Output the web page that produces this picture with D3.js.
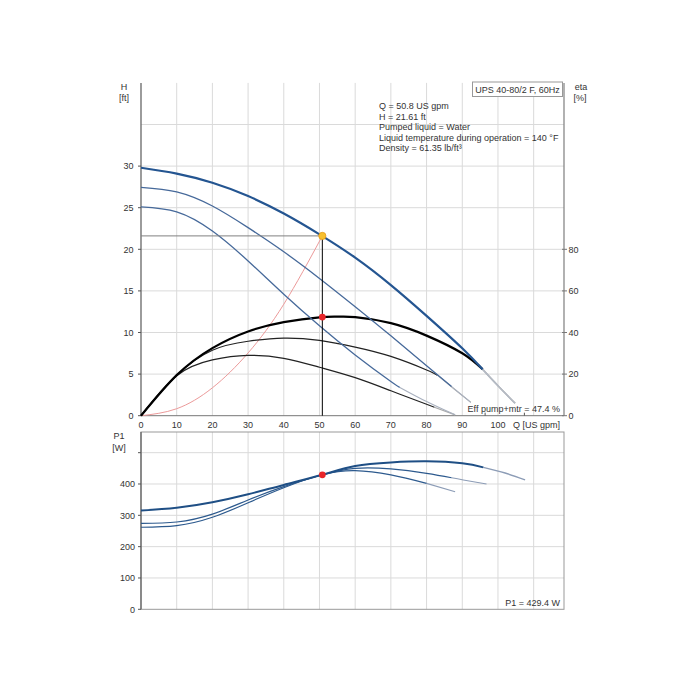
<!DOCTYPE html>
<html>
<head>
<meta charset="utf-8">
<script src="https://cdn.jsdelivr.net/npm/d3@7"></script>
<style>
  body { margin: 0; background: #fff; }
  text { font-family: "Liberation Sans", Arial, sans-serif; font-size: 9px; fill: #333; }
</style>
</head>
<body>
<div id="graph"></div>
<script>
// flow ticks / labels
const qTicks = [0, 10, 20, 30, 40, 50, 60, 70, 80, 90, 100];
const qGrid = [10, 20, 30, 40, 50, 60, 70, 80, 90, 100, 110];
const hTicks = [0, 5, 10, 15, 20, 25, 30];
const hGrid = [5, 10, 15, 20, 25, 30, 35];
const etaTicks = [0, 20, 40, 60, 80];
const p1Ticks = [0, 100, 200, 300, 400];
const p1Grid = [100, 200, 300, 400, 500];

// head curves (3 speeds), main part up to hMainEnd, grey tail after
const hQ1 = [0, 10, 20, 30, 40, 50, 60, 70, 80, 90, 95.7, 100, 104.8];
const hVal1 = [29.8, 29.1, 28.0, 26.4, 24.3, 21.8, 19.0, 15.7, 12.0, 8.1, 5.57, 3.6, 1.5];
const hQ2 = [0, 10, 20, 30, 40, 50, 60, 70, 80, 87, 92.4];
const hVal2 = [27.45, 26.9, 25.2, 22.6, 19.7, 16.5, 13.1, 9.6, 6.0, 3.5, 1.6];
const hQ3 = [0, 10, 20, 30, 40, 50, 60, 70, 72.5, 80, 88];
const hVal3 = [25.1, 24.5, 22.2, 18.6, 14.6, 10.8, 7.3, 4.1, 3.4, 1.7, 0.1];
const hMainEnd = [95.7, 87, 72.5];

// efficiency curves [%]
const eQ1 = [0, 10, 20, 30, 40, 50, 55, 60, 70, 80, 90, 95.7, 100, 104.8];
const eVal1 = [0, 19.5, 32.5, 40.5, 45, 47.3, 47.6, 47.4, 44.5, 38.5, 30, 22.3, 14.4, 6];
const eQ2 = [0, 10, 20, 30, 40, 50, 60, 70, 80, 83, 88, 92.4];
const eVal2 = [0, 19.4, 31.5, 35.8, 37.3, 36.2, 33, 28.5, 22, 19.5, 12.5, 6.4];
const eQ3 = [0, 10, 20, 30, 40, 50, 60, 70, 80, 82, 88];
const eVal3 = [0, 19.2, 26.8, 29, 27.6, 23.3, 18.3, 12, 5.5, 4.2, 0.4];
const eMainEnd = [95.7, 83, 82];

// power curves P1 [W]
const pQ1 = [0, 10, 20, 30, 40, 50.8, 60, 70, 80, 90, 95.9, 102, 107.6];
const pVal1 = [315, 324, 341.6, 367, 397, 429.4, 457.6, 469, 472.5, 466, 453, 435, 413];
const pQ2 = [0, 10, 20, 30, 40, 50.8, 60, 70, 80, 87, 90.3, 96.8];
const pVal2 = [274.6, 278.7, 304, 349, 391.5, 429.4, 450, 448, 434, 420, 413, 400];
const pQ3 = [0, 10, 20, 30, 40, 50.8, 60, 70, 80, 88];
const pVal3 = [262, 267, 293.7, 340, 388, 429.4, 442.6, 429, 402, 375.5];
const pMainEnd = [95.9, 87, 80];

// system curve
const sysQ = [0, 10, 20, 30, 40, 50.8];
const sysH = [0, 0.84, 3.35, 7.54, 13.4, 21.61];

// duty point
const dutyQ = 50.8, dutyH = 21.61, dutyEta = 47.4, dutyP1 = 429.4;
const infoLines = ["Q = 50.8 US gpm", "H = 21.61 ft", "Pumped liquid = Water",
  "Liquid temperature during operation = 140 °F", "Density = 61.35 lb/ft³"];

const svg = d3.select('#graph').append('svg').attr('width', 700).attr('height', 700);

const x = d3.scaleLinear().domain([0, 118.5]).range([141, 564]);
const yH = d3.scaleLinear().domain([0, 40]).range([415.7, 82.9]);
const yE = d3.scaleLinear().domain([0, 160]).range([415.7, 82.9]);
const yP = d3.scaleLinear().domain([0, 566]).range([609.3, 432]);

const gridColor = '#dadada';

// top panel grid
svg.append('g').selectAll('line').data(qGrid).join('line')
  .attr('x1', d => x(d)).attr('x2', d => x(d)).attr('y1', yH(40)).attr('y2', yH(0))
  .attr('stroke', gridColor);
svg.append('g').selectAll('line').data(hGrid).join('line')
  .attr('x1', x(0)).attr('x2', 564).attr('y1', d => yH(d)).attr('y2', d => yH(d))
  .attr('stroke', gridColor);

// bottom panel grid
svg.append('g').selectAll('line').data(qGrid).join('line')
  .attr('x1', d => x(d)).attr('x2', d => x(d)).attr('y1', yP(566)).attr('y2', yP(0))
  .attr('stroke', gridColor);
svg.append('g').selectAll('line').data(p1Grid).join('line')
  .attr('x1', x(0)).attr('x2', 564).attr('y1', d => yP(d)).attr('y2', d => yP(d))
  .attr('stroke', gridColor);

// frames / axis lines
svg.append('line').attr('x1', x(0)).attr('x2', 564).attr('y1', yH(0)).attr('y2', yH(0)).attr('stroke', '#777');
svg.append('line').attr('x1', 564).attr('x2', 564).attr('y1', yH(40)).attr('y2', yH(0)).attr('stroke', '#888').attr('stroke-width', 1.3);
svg.append('line').attr('x1', x(0)).attr('x2', x(0)).attr('y1', yH(40)).attr('y2', yH(0)).attr('stroke', '#666').attr('stroke-width', 1.3);
svg.append('rect').attr('x', x(0)).attr('y', yP(566)).attr('width', 564 - x(0)).attr('height', yP(0) - yP(566))
  .attr('fill', 'none').attr('stroke', '#999');
svg.append('line').attr('x1', x(0)).attr('x2', x(0)).attr('y1', yP(566)).attr('y2', yP(0)).attr('stroke', '#666').attr('stroke-width', 1.3);

// left ticks + labels (H)
const hAx = svg.append('g');
hAx.selectAll('line').data(hTicks).join('line')
  .attr('x1', x(0) - 3).attr('x2', x(0)).attr('y1', d => yH(d)).attr('y2', d => yH(d)).attr('stroke', '#555');
hAx.selectAll('text').data(hTicks).join('text')
  .attr('x', 133.5).attr('y', d => yH(d) + 3.2).attr('text-anchor', 'end').text(d => d);
svg.append('text').attr('x', 124).attr('y', 89.5).attr('text-anchor', 'middle').text('H');
svg.append('text').attr('x', 124).attr('y', 100.5).attr('text-anchor', 'middle').text('[ft]');

// right ticks + labels (eta)
const eAx = svg.append('g');
eAx.selectAll('line').data(etaTicks).join('line')
  .attr('x1', 562).attr('x2', 567).attr('y1', d => yE(d)).attr('y2', d => yE(d)).attr('stroke', '#777');
eAx.selectAll('text').data(etaTicks).join('text')
  .attr('x', 568.5).attr('y', d => yE(d) + 3.2).text(d => d);
svg.append('text').attr('x', 581).attr('y', 89.5).attr('text-anchor', 'middle').text('eta');
svg.append('text').attr('x', 580).attr('y', 100.5).attr('text-anchor', 'middle').text('[%]');

// x labels
svg.append('g').selectAll('text').data(qTicks).join('text')
  .attr('x', d => x(d)).attr('y', 427.5).attr('text-anchor', 'middle').text(d => d);
svg.append('text').attr('x', 560).attr('y', 427.5).attr('text-anchor', 'end').text('Q [US gpm]');

// bottom P1 axis
const pAx = svg.append('g');
pAx.selectAll('line').data(p1Grid.concat([0])).join('line')
  .attr('x1', x(0) - 3).attr('x2', x(0)).attr('y1', d => yP(d)).attr('y2', d => yP(d)).attr('stroke', '#555');
pAx.selectAll('text').data(p1Ticks).join('text')
  .attr('x', 135).attr('y', d => yP(d) + 3.2).attr('text-anchor', 'end').text(d => d);
svg.append('text').attr('x', 119).attr('y', 439).attr('text-anchor', 'middle').text('P1');
svg.append('text').attr('x', 119).attr('y', 450.5).attr('text-anchor', 'middle').text('[W]');

// curve helper: main part + grey tail
function drawCurve(qs, vs, yScale, mainEnd, color, width, tailColor) {
  const pts = qs.map((q, i) => ({ q: q, v: vs[i] }));
  const line = d3.line().x(d => x(d.q)).y(d => yScale(d.v)).curve(d3.curveNatural);
  const main = pts.filter(d => d.q <= mainEnd);
  const tail = pts.filter(d => d.q >= mainEnd);
  if (tail.length > 1) {
    svg.append('path').datum(tail).attr('d', line).attr('fill', 'none')
      .attr('stroke', tailColor).attr('stroke-width', Math.max(1.1, width - 0.6));
  }
  svg.append('path').datum(main).attr('d', line).attr('fill', 'none')
    .attr('stroke', color).attr('stroke-width', width);
}

// system curve
svg.append('path').datum(sysQ.map((q, i) => ({ q: q, v: sysH[i] })))
  .attr('d', d3.line().x(d => x(d.q)).y(d => yH(d.v)).curve(d3.curveNatural))
  .attr('fill', 'none').attr('stroke', '#ec9a9a').attr('stroke-width', 1);

// eta curves
drawCurve(eQ3, eVal3, yE, eMainEnd[2], '#222', 1.2, '#aaa');
drawCurve(eQ2, eVal2, yE, eMainEnd[1], '#222', 1.2, '#aaa');
drawCurve(eQ1, eVal1, yE, eMainEnd[0], '#000', 2.2, '#b0b0b0');

// head curves
drawCurve(hQ3, hVal3, yH, hMainEnd[2], '#46699a', 1.3, '#a9b1bf');
drawCurve(hQ2, hVal2, yH, hMainEnd[1], '#46699a', 1.3, '#a9b1bf');
drawCurve(hQ1, hVal1, yH, hMainEnd[0], '#245591', 2.2, '#b4bac4');

// power curves
drawCurve(pQ3, pVal3, yP, pMainEnd[2], '#2d5a8e', 1.2, '#8c9cb6');
drawCurve(pQ2, pVal2, yP, pMainEnd[1], '#2d5a8e', 1.2, '#8c9cb6');
drawCurve(pQ1, pVal1, yP, pMainEnd[0], '#1f4f85', 2.0, '#8c9cb6');

// duty point lines
svg.append('line').attr('x1', x(0)).attr('x2', x(dutyQ)).attr('y1', yH(dutyH)).attr('y2', yH(dutyH))
  .attr('stroke', '#808080');
svg.append('line').attr('x1', x(dutyQ)).attr('x2', x(dutyQ)).attr('y1', yH(dutyH)).attr('y2', yH(0))
  .attr('stroke', '#000');

// duty point markers
svg.append('circle').attr('cx', x(dutyQ)).attr('cy', yH(dutyH)).attr('r', 3.6)
  .attr('fill', '#f7c02f').attr('stroke', '#e59a18').attr('stroke-width', 0.8);
svg.append('circle').attr('cx', x(dutyQ)).attr('cy', yE(dutyEta)).attr('r', 3.4).attr('fill', '#e8262a');
svg.append('circle').attr('cx', x(dutyQ)).attr('cy', yP(dutyP1)).attr('r', 3.4).attr('fill', '#e8262a');

// small marks on Q axis at curve ends
svg.append('g').selectAll('line').data([96.4, 107.4]).join('line')
  .attr('x1', d => x(d)).attr('x2', d => x(d)).attr('y1', yH(0)).attr('y2', yH(0) - 3).attr('stroke', '#555');

// title box
svg.append('rect').attr('x', 472.5).attr('y', 82).attr('width', 90).attr('height', 14.5)
  .attr('fill', '#fff').attr('stroke', '#999');
svg.append('text').attr('x', 517.5).attr('y', 92.5).attr('text-anchor', 'middle').text('UPS 40-80/2 F, 60Hz');

// info text
svg.append('g').selectAll('text').data(infoLines).join('text')
  .attr('x', 379).attr('y', (d, i) => 109 + i * 10.5).text(d => d);

svg.append('text').attr('x', 560).attr('y', 412).attr('text-anchor', 'end').text('Eff pump+mtr = 47.4 %');
svg.append('text').attr('x', 560).attr('y', 606).attr('text-anchor', 'end').text('P1 = 429.4 W');
</script>
</body>
</html>
